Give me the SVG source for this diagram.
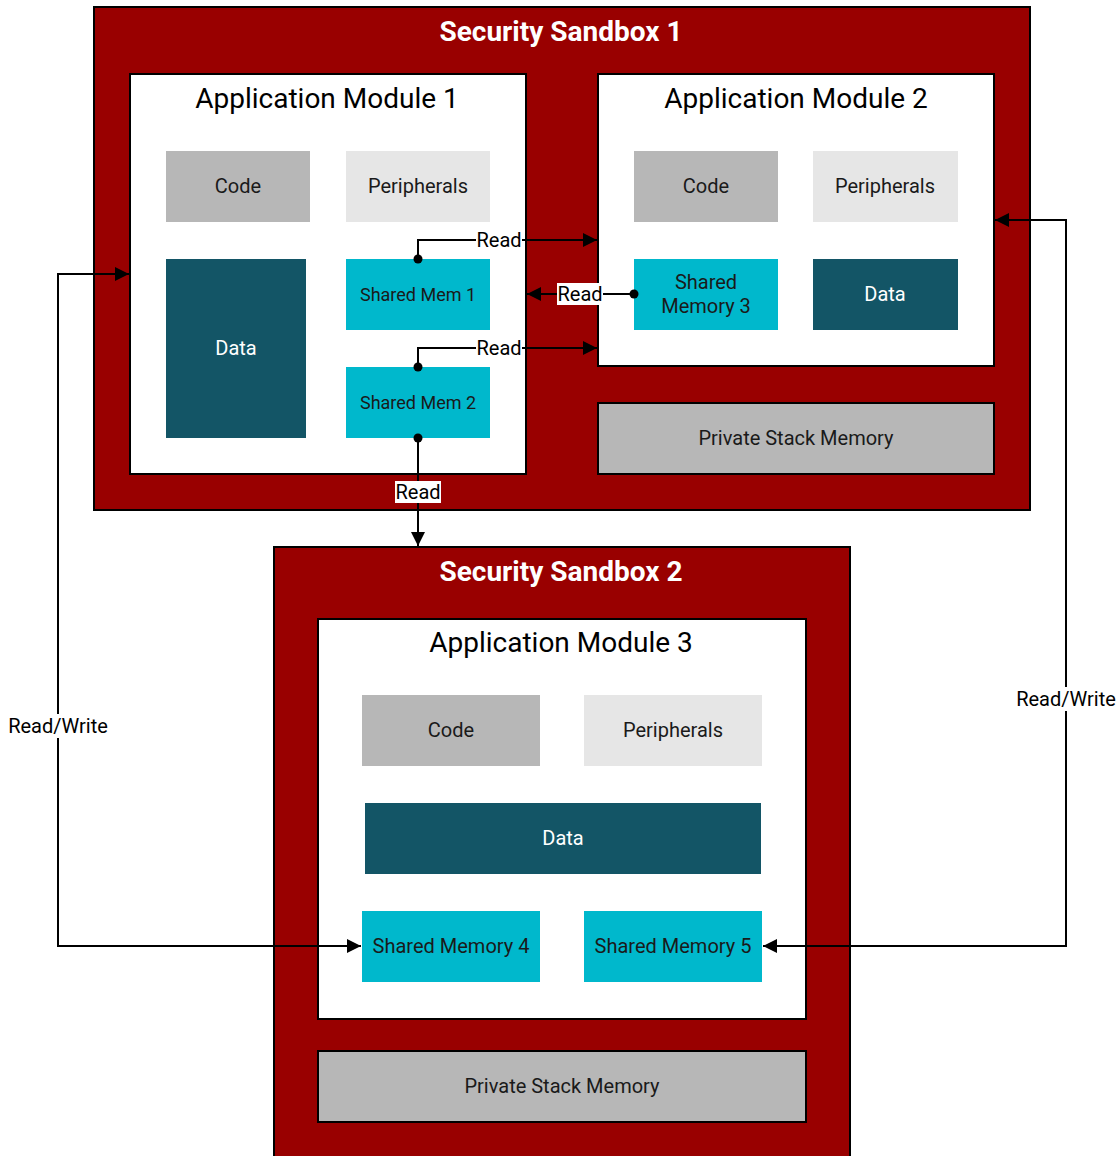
<svg xmlns="http://www.w3.org/2000/svg" width="1118" height="1156" viewBox="0 0 1118 1156">
<defs>
<style>
.sb{fill:#990000;stroke:#000;stroke-width:2}
.am{fill:#fff;stroke:#000;stroke-width:2}
.psm{fill:#b7b7b7;stroke:#000;stroke-width:2}
.code{fill:#b7b7b7}
.per{fill:#e6e6e6}
.data{fill:#135566}
.sh{fill:#00b8cc}
text{font-family:Roboto,"Liberation Sans",sans-serif;text-anchor:middle;dominant-baseline:central}
.st{font-size:28px;font-weight:bold;fill:#fff}
.at{font-size:28px;fill:#000}
.bt{font-size:20px;fill:#1a1a1a}
.wt{font-size:20px;fill:#fff}
.smt{font-size:18px;fill:#1a1a1a}
.lbl{font-size:20px;fill:#000}
.ln{fill:none;stroke:#000;stroke-width:2}
</style>
<marker id="ah2" viewBox="0 0 10 10" refX="10" refY="5" markerWidth="14" markerHeight="14" orient="auto-start-reverse" markerUnits="userSpaceOnUse">
<path d="M0,0 L10,5 L0,10 z" fill="#000"/>
</marker>
</defs>
<g id="sandbox1">
<rect class="sb" x="94" y="7" width="936" height="503"/>
<text class="st" x="561" y="31">Security Sandbox 1</text>
</g>
<g id="sandbox2">
<rect class="sb" x="274" y="547" width="576" height="620"/>
<text class="st" x="561" y="571">Security Sandbox 2</text>
</g>
<g id="am1">
<rect class="am" x="130" y="74" width="396" height="400"/>
<text class="at" x="327" y="98">Application Module 1</text>
</g>
<g id="am1-code"><rect class="code" x="166" y="151" width="144" height="71"/><text class="bt" x="238" y="186">Code</text></g>
<g id="am1-per"><rect class="per" x="346" y="151" width="144" height="71"/><text class="bt" x="418" y="186">Peripherals</text></g>
<g id="am1-data"><rect class="data" x="166" y="259" width="140" height="179"/><text class="wt" x="236" y="348">Data</text></g>
<g id="sm1"><rect class="sh" x="346" y="259" width="144" height="71"/><text class="smt" x="418" y="294">Shared Mem 1</text></g>
<g id="sm2"><rect class="sh" x="346" y="367" width="144" height="71"/><text class="smt" x="418" y="402">Shared Mem 2</text></g>
<g id="am2">
<rect class="am" x="598" y="74" width="396" height="292"/>
<text class="at" x="796" y="98">Application Module 2</text>
</g>
<g id="am2-code"><rect class="code" x="634" y="151" width="144" height="71"/><text class="bt" x="706" y="186">Code</text></g>
<g id="am2-per"><rect class="per" x="813" y="151" width="145" height="71"/><text class="bt" x="885" y="186">Peripherals</text></g>
<g id="sm3"><rect class="sh" x="634" y="259" width="144" height="71"/><text class="bt" x="706" y="282">Shared</text><text class="bt" x="706" y="306">Memory 3</text></g>
<g id="am2-data"><rect class="data" x="813" y="259" width="145" height="71"/><text class="wt" x="885" y="294">Data</text></g>
<g id="psm1"><rect class="psm" x="598" y="403" width="396" height="71"/><text class="bt" x="796" y="438">Private Stack Memory</text></g>
<g id="am3">
<rect class="am" x="318" y="619" width="488" height="400"/>
<text class="at" x="561" y="642">Application Module 3</text>
</g>
<g id="am3-code"><rect class="code" x="362" y="695" width="178" height="71"/><text class="bt" x="451" y="730">Code</text></g>
<g id="am3-per"><rect class="per" x="584" y="695" width="178" height="71"/><text class="bt" x="673" y="730">Peripherals</text></g>
<g id="am3-data"><rect class="data" x="365" y="803" width="396" height="71"/><text class="wt" x="563" y="838">Data</text></g>
<g id="sm4"><rect class="sh" x="362" y="911" width="178" height="71"/><text class="bt" x="451" y="946">Shared Memory 4</text></g>
<g id="sm5"><rect class="sh" x="584" y="911" width="178" height="71"/><text class="bt" x="673" y="946">Shared Memory 5</text></g>
<g id="psm2"><rect class="psm" x="318" y="1051" width="488" height="71"/><text class="bt" x="562" y="1086">Private Stack Memory</text></g>
<g id="connectors">
<path class="ln" d="M418,259 V240 H597" marker-end="url(#ah2)"/>
<circle cx="418" cy="259" r="4.5"/>
<rect x="476" y="230" width="46" height="20" fill="#fff"/>
<text class="lbl" x="499" y="240">Read</text>
<path class="ln" d="M634,294 H527" marker-end="url(#ah2)"/>
<circle cx="634" cy="294" r="4.5"/>
<rect x="557" y="283" width="46" height="22" fill="#fff"/>
<text class="lbl" x="580" y="294">Read</text>
<path class="ln" d="M418,367 V348 H597" marker-end="url(#ah2)"/>
<circle cx="418" cy="367" r="4.5"/>
<rect x="476" y="338" width="46" height="20" fill="#fff"/>
<text class="lbl" x="499" y="348">Read</text>
<path class="ln" d="M418,438 V546" marker-end="url(#ah2)"/>
<circle cx="418" cy="438" r="4.5"/>
<rect x="395" y="481" width="46" height="22" fill="#fff"/>
<text class="lbl" x="418" y="492">Read</text>
<path class="ln" d="M361,946 H58 V274 H129" marker-start="url(#ah2)" marker-end="url(#ah2)"/>
<rect x="7" y="714" width="102" height="24" fill="#fff"/>
<text class="lbl" x="58" y="726">Read/Write</text>
<path class="ln" d="M763,946 H1066 V220 H995" marker-start="url(#ah2)" marker-end="url(#ah2)"/>
<rect x="1015" y="687" width="102" height="24" fill="#fff"/>
<text class="lbl" x="1066" y="699">Read/Write</text>
</g>
</svg>
